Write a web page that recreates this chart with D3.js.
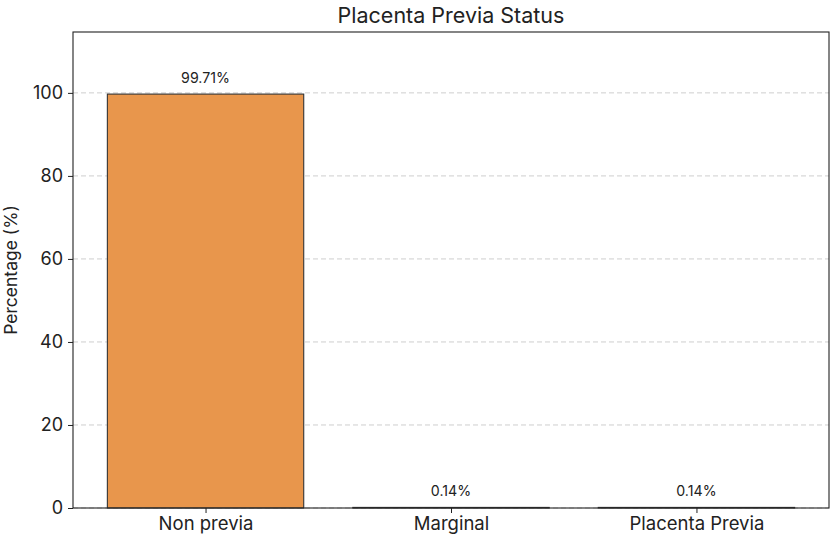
<!DOCTYPE html>
<html><head><meta charset="utf-8">
<script src="https://cdn.jsdelivr.net/npm/d3@7"></script>
<style>body{margin:0;background:#fff}svg{display:block}text{font-family:Inter,"Open Sans",sans-serif;fill:#222}</style>
</head><body>
<script>
const categories = ["Non previa", "Marginal", "Placenta Previa"];
const values = [99.71, 0.14, 0.14];
const yTicks = [0, 20, 40, 60, 80, 100];
const title = "Placenta Previa Status";
const yLabel = "Percentage (%)";

const W = 832, H = 541;
const m = {left: 73, right: 3, top: 32, bottom: 33};
const F = "Inter,sans-serif";
const svg = d3.select("body").append("svg").attr("width", W).attr("height", H);
const x = d3.scaleLinear().domain([-0.54, categories.length - 1 + 0.54]).range([m.left, W - m.right]);
const y = d3.scaleLinear().domain([0, d3.max(values) * 1.15]).range([H - m.bottom, m.top]);
const bw = x(0.8) - x(0);

svg.append("g").selectAll("line").data(yTicks).join("line")
  .attr("x1", m.left).attr("x2", W - m.right)
  .attr("y1", d => y(d)).attr("y2", d => y(d))
  .attr("stroke", "#c8c8c8").attr("stroke-dasharray", "5,3").attr("stroke-width", 0.9);

svg.append("g").selectAll("rect").data(values).join("rect")
  .attr("x", (d, i) => x(i) - bw / 2).attr("width", bw)
  .attr("y", d => y(d)).attr("height", d => y(0) - y(d))
  .attr("fill", "#E8964C").attr("stroke", "#333").attr("stroke-width", 1.1);

svg.append("g").selectAll("text").data(values).join("text")
  .attr("x", (d, i) => x(i)).attr("y", d => y(d) - 11)
  .attr("text-anchor", "middle").attr("font-size", 14.2)
  .text(d => d.toFixed(2) + "%");

const ya = svg.append("g").attr("transform", `translate(${m.left},0)`)
  .call(d3.axisLeft(y).tickValues(yTicks).tickSize(5).tickPadding(5));
ya.selectAll("text").attr("font-size", 18).style("font-family", F).attr("fill", "#222");
const xa = svg.append("g").attr("transform", `translate(0,${H - m.bottom})`)
  .call(d3.axisBottom(x).tickValues(categories.map((c, i) => i)).tickFormat(i => categories[i]).tickSize(5).tickPadding(4));
xa.selectAll("text").attr("font-size", 18.5).style("font-family", F).attr("fill", "#222");
[ya, xa].forEach(a => { a.select(".domain").remove(); a.selectAll("line").attr("stroke", "#222"); });

svg.append("rect").attr("x", m.left).attr("y", m.top)
  .attr("width", W - m.left - m.right).attr("height", H - m.top - m.bottom)
  .attr("fill", "none").attr("stroke", "#222").attr("stroke-width", 1.1);

svg.append("text").attr("x", (m.left + W - m.right) / 2).attr("y", 23)
  .attr("text-anchor", "middle").attr("font-size", 21.5).text(title);
svg.append("text").attr("transform", `translate(17,${(m.top + H - m.bottom) / 2}) rotate(-90)`)
  .attr("text-anchor", "middle").attr("font-size", 17.5).text(yLabel);
</script>
</body></html>
